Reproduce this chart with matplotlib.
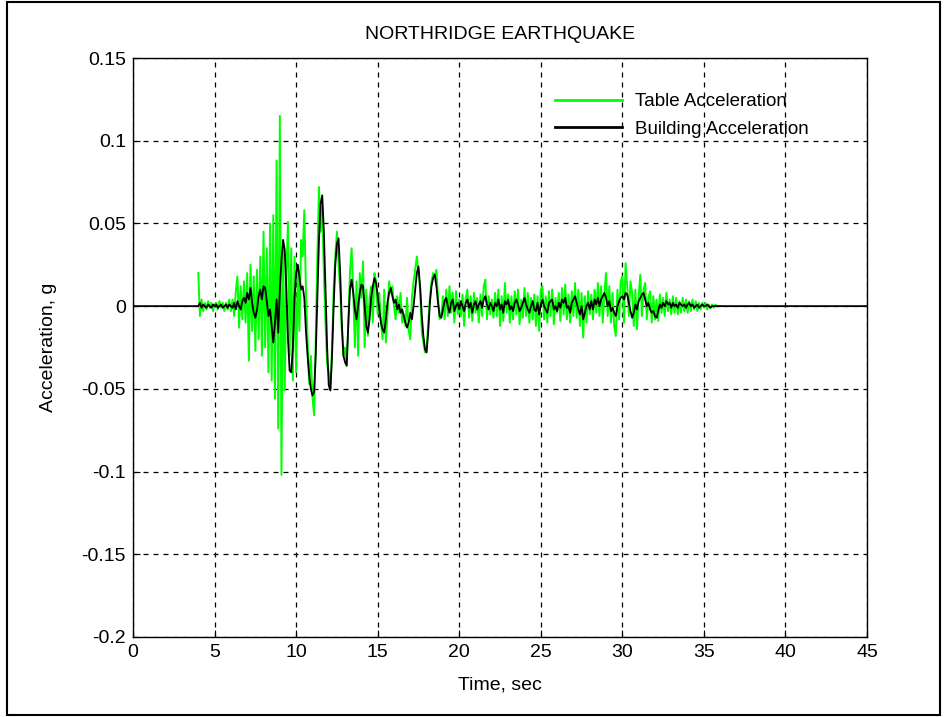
import numpy as np
import matplotlib
matplotlib.use("Agg")
import matplotlib.pyplot as plt
from matplotlib.patches import Rectangle

plt.rcParams['font.family'] = ['Liberation Sans', 'DejaVu Sans']

# sampled records, 0.1 s step starting at 4.0 s (units of g)
dt = 0.1
t_start = 4.0

table_acc = [
    0.020, -0.006, 0.004, -0.003, 0.002, -0.002, 0.003, -0.001, 0.002, -0.003, 0.001,
    0.002, -0.002, 0.003, -0.001, 0.002, -0.003, 0.002, -0.002, 0.004, -0.003,
    0.004, -0.006, 0.009, 0.018, -0.013, 0.012, -0.008, 0.015, -0.010, 0.020,
    -0.033, 0.025, -0.015, 0.018, -0.027, 0.022, -0.020, 0.030, -0.030, 0.045,
    -0.025, 0.035, -0.040, 0.050, -0.045, 0.055, -0.056, 0.088, -0.074, 0.115,
    -0.102, 0.040, -0.051, 0.020, 0.051, -0.030, 0.035, -0.045, 0.030, -0.040,
    0.025, -0.015, 0.040, 0.030, 0.058, 0.010, -0.020, -0.047, -0.030, -0.055,
    -0.066, -0.020, 0.030, 0.072, 0.045, 0.060, 0.020, -0.010, -0.035, -0.040,
    -0.050, -0.025, 0.010, 0.030, 0.045, 0.025, 0.010, -0.015, -0.030, -0.025,
    -0.036, -0.010, 0.020, 0.035, 0.010, -0.025, 0.015, -0.030, 0.020, 0.005,
    0.027, -0.025, 0.010, -0.018, 0.005, 0.012, -0.010, 0.020, 0.015, -0.005,
    0.008, -0.010, -0.020, 0.010, -0.022, -0.005, 0.015, 0.008, 0.012, 0.000,
    -0.008, 0.006, -0.004, 0.008, -0.010, -0.005, -0.012, 0.005, -0.015, -0.020,
    0.005, 0.015, 0.022, 0.030, 0.020, 0.010, -0.015, -0.022, -0.028, -0.025,
    -0.010, 0.005, 0.015, 0.020, 0.018, 0.022, 0.005, -0.008, -0.005, 0.006,
    -0.008, 0.010, -0.006, 0.012, -0.004, 0.008, -0.010, 0.009, -0.005, 0.004,
    -0.006, 0.007, -0.012, 0.005, 0.010, -0.007, 0.006, -0.009, 0.008, -0.004,
    0.005, -0.010, 0.007, -0.006, 0.012, 0.016, -0.008, 0.006, -0.005, 0.004,
    -0.007, 0.008, -0.006, 0.010, -0.012, 0.006, -0.009, 0.014, -0.004, 0.007,
    -0.010, 0.006, -0.008, 0.009, -0.005, 0.010, -0.011, 0.004, -0.007, 0.011,
    -0.006, 0.008, -0.010, 0.005, -0.008, 0.007, -0.012, 0.006, -0.015, 0.010,
    0.012, -0.008, 0.006, -0.010, 0.009, -0.006, 0.010, -0.011, 0.005, -0.004,
    0.008, -0.009, 0.011, -0.005, 0.013, -0.008, 0.007, -0.010, 0.009, -0.006,
    0.014, -0.007, 0.010, -0.012, 0.008, -0.019, 0.006, -0.010, 0.009, -0.005,
    0.007, -0.008, 0.010, -0.004, 0.014, -0.006, 0.012, -0.010, 0.008, 0.020,
    -0.006, 0.012, -0.010, 0.008, -0.012, -0.018, 0.010, -0.008, 0.015, 0.018,
    -0.010, 0.026, 0.012, -0.006, 0.015, 0.008, -0.012, 0.010, -0.014, 0.006,
    0.019, -0.006, 0.010, 0.014, -0.008, 0.005, 0.009, -0.010, 0.006, -0.008,
    0.004, -0.009, 0.007, -0.004, 0.005, -0.006, 0.008, -0.003, 0.004, -0.005,
    0.006, -0.004, 0.005, -0.005, 0.003, -0.004, 0.005, -0.003, 0.004, -0.004,
    0.003, -0.003, 0.004, -0.002, 0.003, -0.003, 0.002, -0.002, 0.002, -0.001,
    0.002, -0.002, 0.001, -0.001, 0.001, -0.001, 0.001, 0.000, 0.000, 0.000,
]

building_acc = [
    0.000, 0.002, -0.001, 0.001, 0.000, -0.001, 0.001, 0.000, -0.001, 0.001, 0.000,
    0.001, -0.001, 0.000, 0.001, -0.001, 0.000, 0.001, -0.001, 0.001, 0.000,
    -0.001, 0.002, -0.002, 0.003, 0.000, -0.002, 0.003, 0.005, 0.002, 0.008,
    0.004, 0.011, 0.002, -0.004, -0.007, -0.002, 0.006, 0.010, 0.004, 0.012,
    0.011, 0.003, -0.006, -0.002, -0.012, -0.022, -0.010, 0.004, -0.016, 0.010,
    0.028, 0.040, 0.034, 0.010, -0.020, -0.039, -0.040, -0.025, 0.005, 0.020,
    0.025, 0.018, 0.010, 0.012, 0.005, -0.015, -0.030, -0.042, -0.050, -0.054,
    -0.052, -0.030, 0.005, 0.040, 0.062, 0.067, 0.045, 0.010, -0.025, -0.048,
    -0.051, -0.030, 0.000, 0.025, 0.038, 0.041, 0.020, -0.010, -0.030, -0.034,
    -0.036, -0.010, 0.010, 0.016, 0.008, -0.002, -0.008, 0.000, 0.008, 0.013,
    0.012, 0.000, -0.012, -0.016, -0.008, 0.005, 0.012, 0.017, 0.014, 0.006,
    -0.002, -0.010, -0.014, -0.016, -0.008, 0.002, 0.008, 0.011, 0.006, 0.002,
    0.004, -0.002, 0.001, -0.004, -0.002, -0.006, -0.010, -0.013, -0.010, -0.004,
    -0.008, 0.000, 0.010, 0.020, 0.024, 0.012, -0.005, -0.018, -0.026, -0.028,
    -0.015, 0.002, 0.012, 0.017, 0.019, 0.012, 0.002, -0.006, -0.007, -0.002,
    0.003, 0.005, 0.000, -0.004, 0.002, 0.004, -0.003, 0.000, 0.002, -0.002,
    0.003, 0.000, -0.003, 0.002, 0.004, -0.001, 0.002, -0.004, 0.001, 0.003,
    -0.002, 0.001, 0.003, -0.001, 0.004, 0.006, 0.001, -0.002, 0.002, 0.000,
    -0.003, 0.002, 0.000, 0.004, -0.002, 0.001, -0.004, 0.003, 0.001, 0.004,
    -0.002, 0.000, -0.003, 0.002, 0.004, 0.001, -0.003, -0.001, 0.002, 0.005,
    0.001, -0.002, -0.004, 0.000, 0.003, -0.002, -0.003, 0.002, -0.005, 0.001,
    0.004, 0.000, -0.002, -0.004, 0.002, 0.003, 0.004, -0.002, 0.000, -0.003,
    0.002, -0.001, 0.004, 0.002, 0.005, -0.001, 0.000, -0.004, 0.002, 0.004,
    0.006, 0.002, -0.002, -0.005, 0.000, -0.008, -0.004, 0.000, 0.002, -0.002,
    0.003, -0.002, 0.004, 0.001, 0.005, 0.000, 0.004, 0.006, 0.008, 0.005,
    0.000, 0.003, -0.003, -0.001, -0.004, -0.006, 0.000, 0.003, 0.005, 0.006,
    0.004, 0.008, 0.007, 0.002, -0.003, -0.007, -0.004, 0.001, -0.002, 0.003,
    0.005, 0.007, 0.008, 0.004, 0.000, 0.002, -0.002, -0.004, -0.003, -0.006,
    -0.007, -0.003, 0.001, -0.001, 0.002, 0.000, 0.003, 0.001, 0.002, -0.001,
    0.002, 0.000, 0.001, -0.001, 0.002, 0.001, 0.000, 0.001, -0.001, 0.001,
    0.002, 0.000, 0.001, -0.001, 0.000, 0.001, -0.001, 0.000, 0.001, 0.000,
    0.000, 0.001, 0.000, -0.001, 0.000, 0.000, 0.000, 0.000, 0.000, 0.000,
]

x_ticks = [0, 5, 10, 15, 20, 25, 30, 35, 40, 45]
y_ticks = [-0.2, -0.15, -0.1, -0.05, 0, 0.05, 0.1, 0.15]
y_tick_labels = ['-0.2', '-0.15', '-0.1', '-0.05', '0', '0.05', '0.1', '0.15']

t_table = t_start + dt * np.arange(len(table_acc))
t_bldg = t_start + dt * np.arange(len(building_acc))
# building record sits at zero outside the shaking window
t_bldg = np.concatenate([[0.0], t_bldg, [45.0]])
a_bldg = np.concatenate([[0.0], building_acc, [0.0]])

fig = plt.figure(figsize=(9.47, 7.17), dpi=100)
ax = fig.add_axes([0.1405, 0.1116, 0.775, 0.8075])

ax.plot(t_table, table_acc, color='#00ff00', lw=1.4, label='Table Acceleration')
ax.plot(t_bldg, a_bldg, color='black', lw=1.3, label='Building Acceleration')

ax.set_xlim(0, 45)
ax.set_ylim(-0.2, 0.15)
ax.set_xticks(x_ticks)
ax.set_yticks(y_ticks)
ax.set_yticklabels(y_tick_labels)
ax.tick_params(direction='in', length=5, labelsize=14, pad=5, width=0.8)
ax.grid(True, color='black', linestyle=(0, (4, 4)), linewidth=0.9)
for s in ax.spines.values():
    s.set_linewidth(1.0)

ax.set_title('NORTHRIDGE EARTHQUAKE', fontsize=14, pad=14)
ax.set_xlabel('Time, sec', fontsize=14, labelpad=11)
ax.set_ylabel('Acceleration, g', fontsize=14, labelpad=18)

leg = ax.legend(loc='upper left', bbox_to_anchor=(0.575, 0.939), frameon=False,
                fontsize=13.5, handlelength=3.57, handletextpad=0.7,
                labelspacing=0.55, borderpad=0, borderaxespad=0)
for h in leg.get_lines():
    h.set_linewidth(2.0)

# border round the whole figure window
fig.add_artist(Rectangle((7 / 947, 2 / 717), 933 / 947, 713 / 717,
                         transform=fig.transFigure, fill=False,
                         edgecolor='black', linewidth=1.5))

fig.savefig('out.png', dpi=100)
